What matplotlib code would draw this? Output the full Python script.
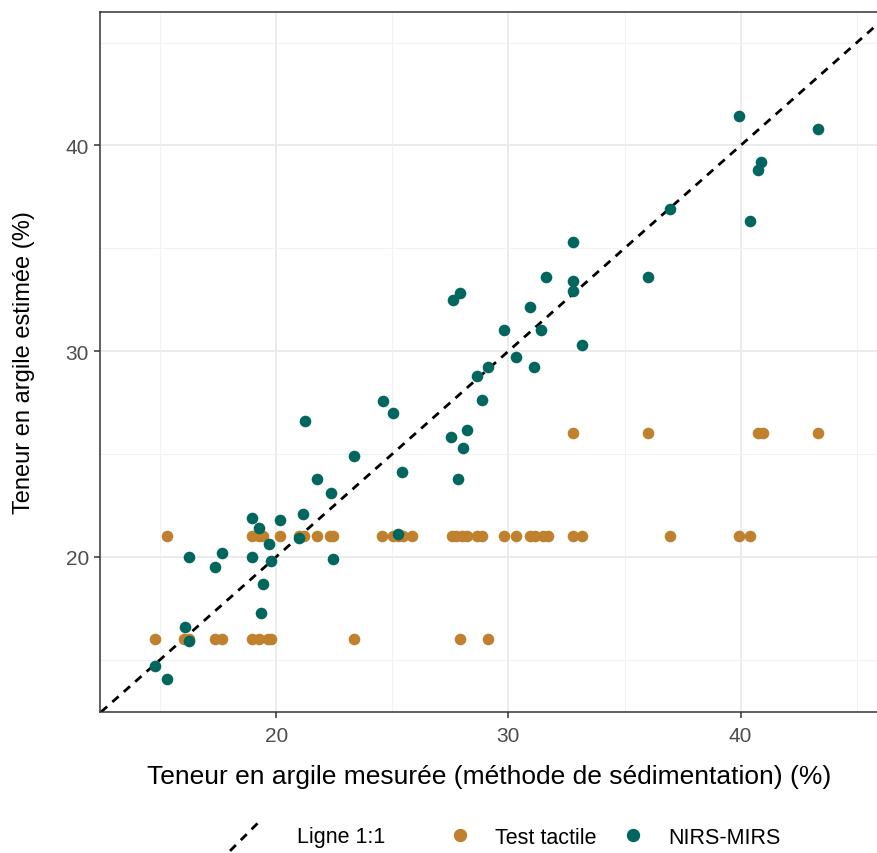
"""
Teneur en argile : mesurée (sédimentation) vs estimée (test tactile, NIRS-MIRS)
"""

import matplotlib
matplotlib.use('Agg')
import matplotlib.pyplot as plt
from matplotlib.lines import Line2D
from matplotlib.legend_handler import HandlerBase
from matplotlib.ticker import MultipleLocator

# ── Data ───────────────────────────────────────────────
tact_x = [14.78, 16.03, 16.25, 17.37, 17.67, 18.97, 19.27, 19.66, 19.78, 23.36, 27.93, 29.14,
          15.30, 18.97, 19.27, 19.44, 20.17, 20.99, 21.20, 21.77, 22.33, 22.46, 24.57, 25.04,
          25.26, 25.47, 25.86, 27.59, 27.76, 28.02, 28.23, 28.66, 28.88, 29.83, 30.34, 30.95,
          31.16, 31.51, 31.72, 32.80, 33.15, 36.94, 39.91, 40.39,
          32.80, 36.03, 40.73, 40.95, 43.32]
tact_y = [16] * 12 + [21] * 32 + [26] * 5

nirs_x = [14.78, 15.30, 16.08, 16.25, 16.25, 17.37, 17.67, 18.97, 19.27, 18.97, 19.70, 19.78,
          19.44, 19.35, 20.17, 21.16, 20.99, 22.46, 25.26, 21.25, 23.36, 21.77, 22.37, 24.60,
          25.04, 25.43, 27.63, 27.93, 27.54, 28.23, 28.06, 27.84, 28.66, 29.14, 28.88, 29.83,
          30.34, 30.95, 31.12, 31.42, 31.64, 32.80, 32.80, 32.80, 33.15, 36.03, 36.94, 39.91,
          40.39, 40.73, 40.90, 43.32]
nirs_y = [14.71, 14.08, 16.60, 15.92, 20.00, 19.51, 20.19, 21.89, 21.41, 20.00, 20.60, 19.80,
          18.69, 17.28, 21.80, 22.09, 20.90, 19.90, 21.10, 26.60, 24.90, 23.79, 23.11, 27.60,
          26.99, 24.13, 32.48, 32.82, 25.82, 26.16, 25.29, 23.79, 28.79, 29.22, 27.62, 31.02,
          29.71, 32.14, 29.22, 31.02, 33.59, 35.30, 33.40, 32.91, 30.29, 33.59, 36.89, 41.41,
          36.31, 38.79, 39.22, 40.78]

COL_TACT = '#BF812D'
COL_NIRS = '#01665E'
DASH = (0, (3, 2.5))
# ───────────────────────────────────────────────────────


class HandlerDiag(HandlerBase):
    # ggplot-style abline key: a diagonal across the key
    def create_artists(self, legend, orig_handle, xdescent, ydescent,
                       width, height, fontsize, trans):
        x0 = -xdescent
        yc = -ydescent + height / 2
        line = Line2D([x0, x0 + width], [yc - width / 2, yc + width / 2],
                      color='black', lw=2.0, linestyle=DASH)
        line.set_transform(trans)
        return [line]


plt.rcParams['font.family'] = ['Liberation Sans', 'DejaVu Sans']

fig = plt.figure(figsize=(8.77, 8.54), dpi=100)
ax = fig.add_axes([0.114, 0.165, 0.888, 0.820])

ax.set_xlim(12.41, 45.95)
ax.set_ylim(12.45, 46.5)

ax.xaxis.set_major_locator(MultipleLocator(10))
ax.yaxis.set_major_locator(MultipleLocator(10))
ax.xaxis.set_minor_locator(MultipleLocator(5))
ax.yaxis.set_minor_locator(MultipleLocator(5))
ax.grid(which='major', color='#EBEBEB', lw=1.4)
ax.grid(which='minor', color='#F2F2F2', lw=0.8)
ax.set_axisbelow(True)

ax.axline((20, 20), slope=1, color='black', lw=2.0, linestyle=DASH, zorder=1)
ax.scatter(tact_x, tact_y, s=70, color=COL_TACT, linewidths=0, zorder=2)
ax.scatter(nirs_x, nirs_y, s=70, color=COL_NIRS, linewidths=0, zorder=3)

for side in ['left', 'bottom', 'top']:
    ax.spines[side].set_color('#333333')
    ax.spines[side].set_linewidth(1.1)
ax.spines['right'].set_visible(False)

ax.tick_params(which='major', length=4, width=1.1, color='#333333',
               labelsize=15, labelcolor='#4D4D4D', pad=4)
ax.tick_params(axis='x', which='major', pad=6)
ax.tick_params(which='minor', length=0)

ax.set_xlabel('Teneur en argile mesurée (méthode de sédimentation) (%)', fontsize=19, labelpad=14)
ax.set_ylabel('Teneur en argile estimée (%)', fontsize=17, labelpad=22)

# legend: one entry per box so each sits where the reference has it
W, H = fig.get_size_inches() * fig.dpi
legend_y = 1 - 838 / H
entries = [
    (Line2D([], [], color='black'), 'Ligne 1:1', 230, 1.48, 1.62),
    (Line2D([], [], marker='o', linestyle='', color=COL_TACT, markersize=8.6), 'Test tactile', 449, 1.0, 1.15),
    (Line2D([], [], marker='o', linestyle='', color=COL_NIRS, markersize=8.6), 'NIRS-MIRS', 622, 1.0, 1.15),
]
for handle, label, left_px, hlen, tpad in entries:
    hmap = {handle: HandlerDiag()} if label == 'Ligne 1:1' else None
    fig.legend([handle], [label], loc='center left',
               bbox_to_anchor=(left_px / W, legend_y), frameon=False,
               fontsize=15.5, handlelength=hlen, handletextpad=tpad,
               borderpad=0, borderaxespad=0, handler_map=hmap)

fig.savefig('out.png', dpi=100)
